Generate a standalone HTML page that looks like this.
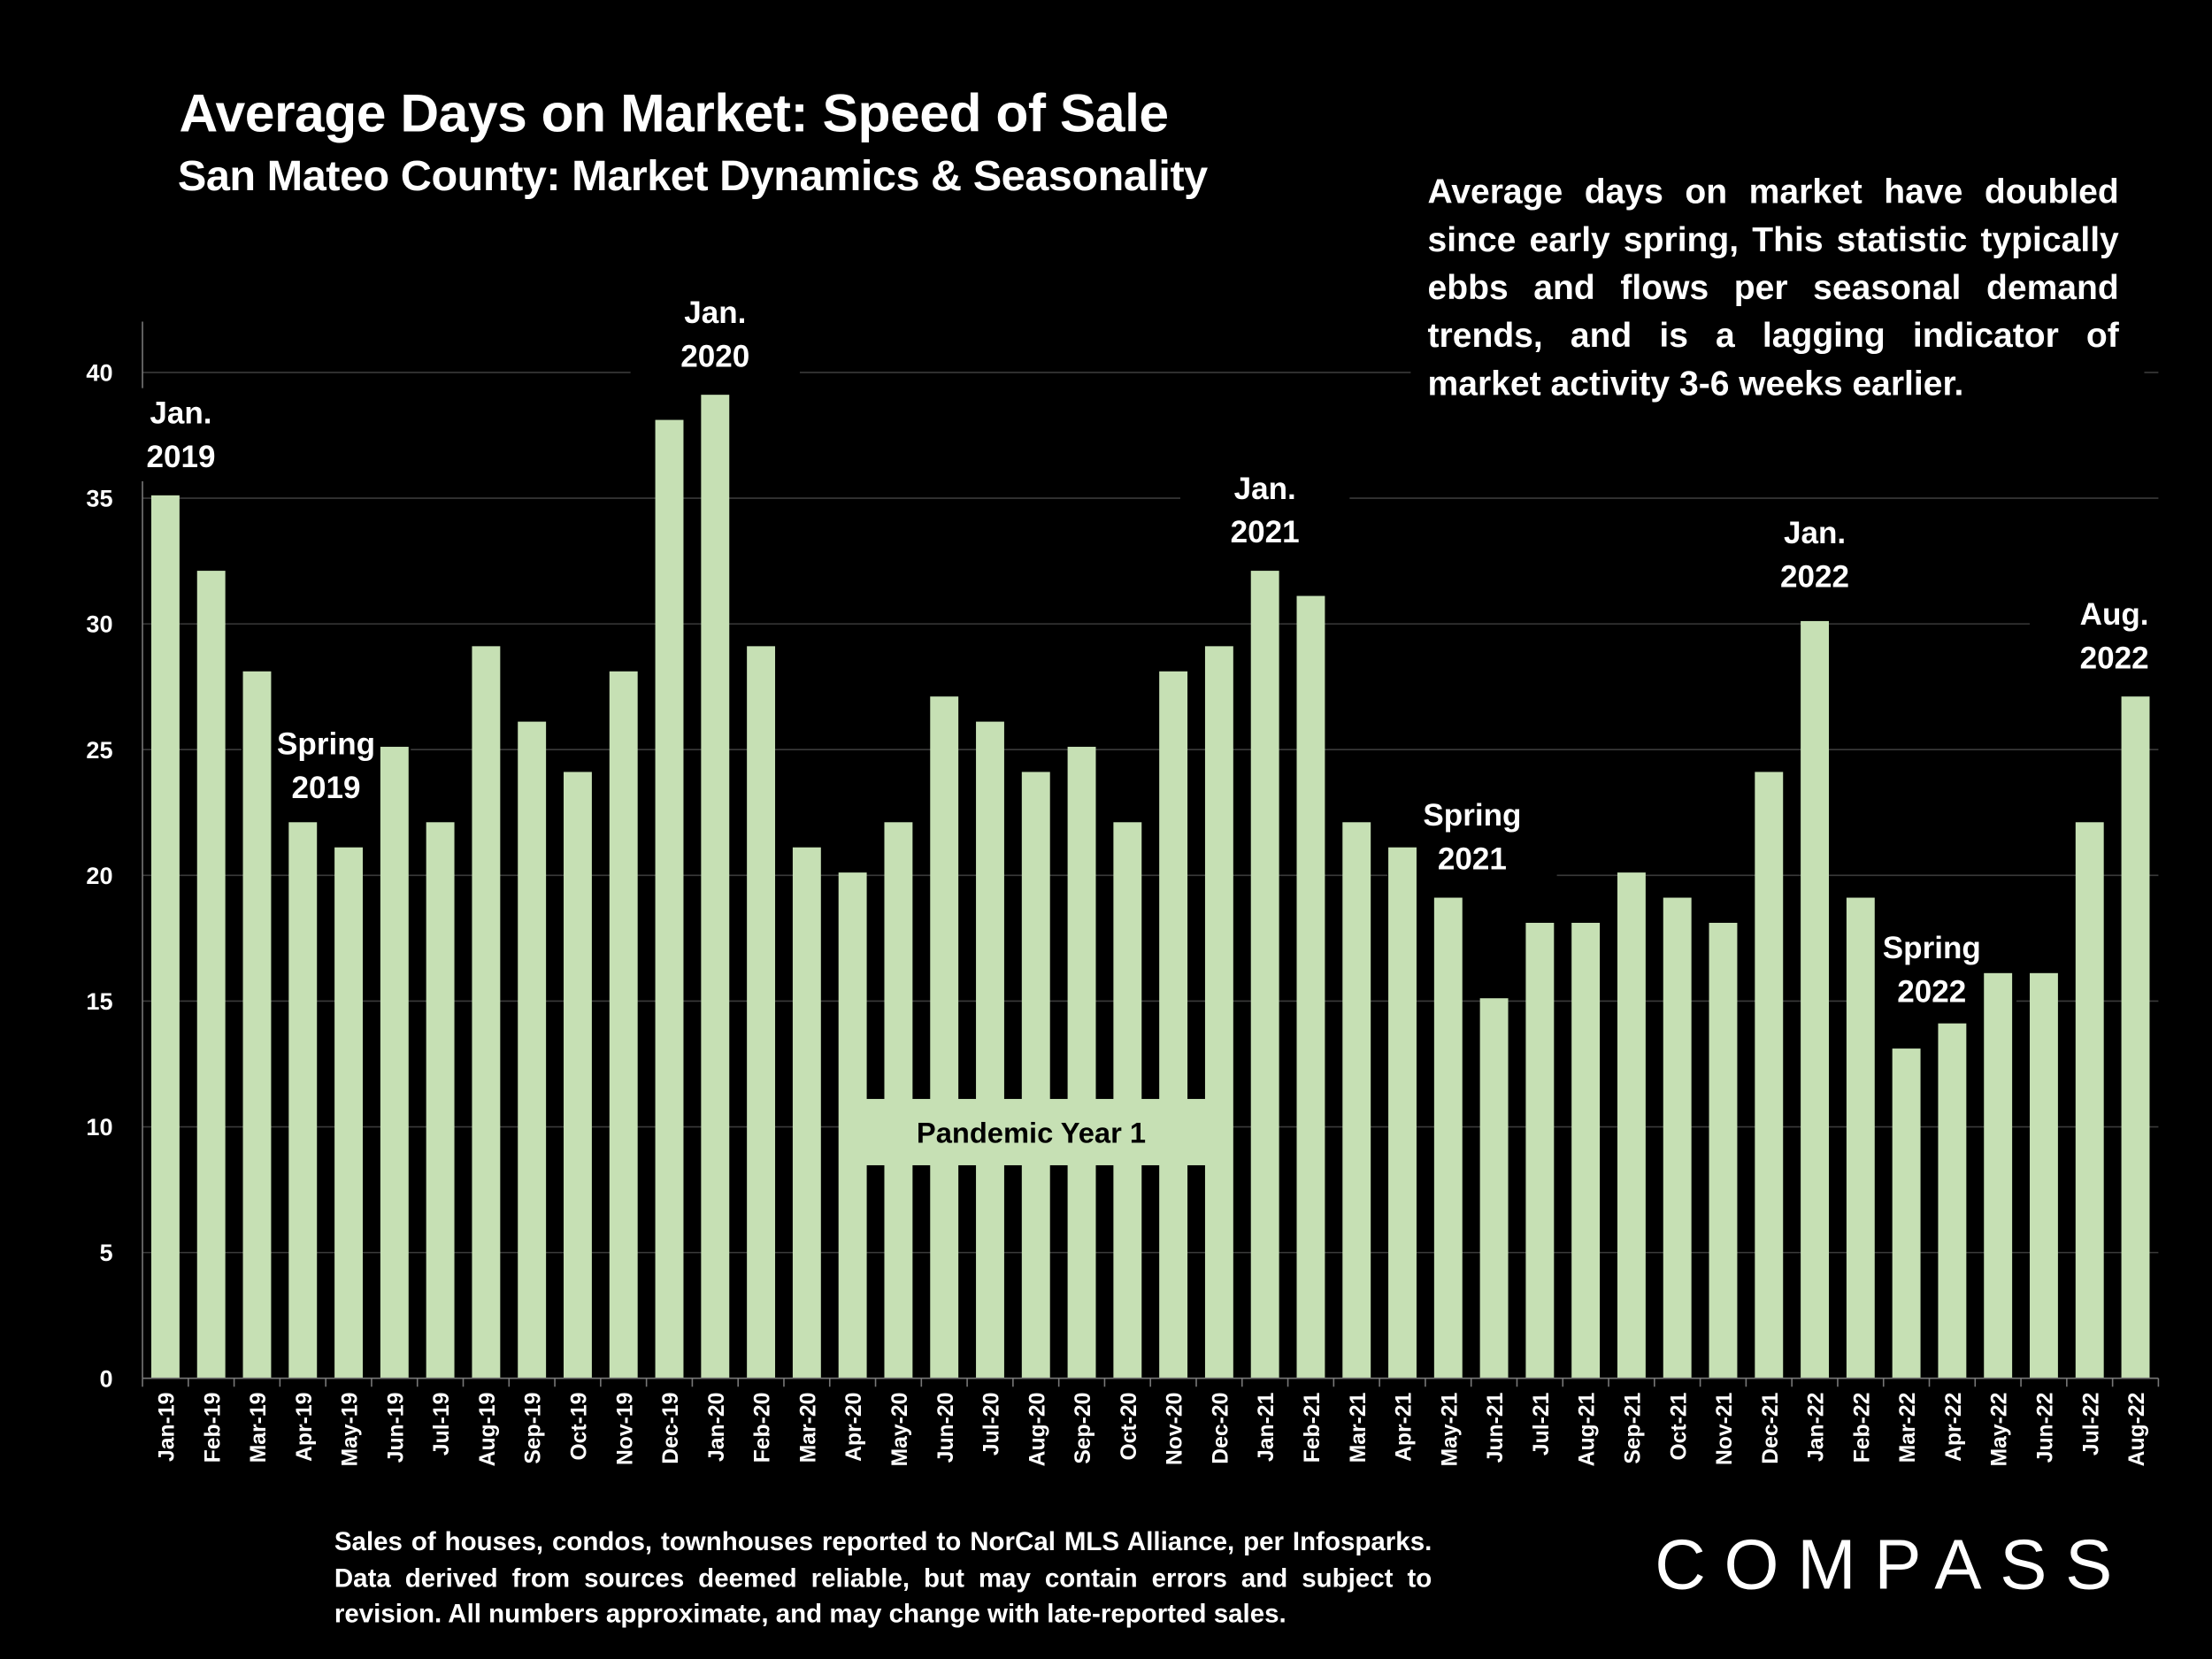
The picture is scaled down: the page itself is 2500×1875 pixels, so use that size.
<!DOCTYPE html>
<html><head><meta charset="utf-8">
<style>
html,body{margin:0;padding:0;background:#000;width:2500px;height:1875px;overflow:hidden}
#stage{position:absolute;left:0;top:0;width:1568px;height:1176px;transform-origin:0 0;transform:scale(1.594388);font-family:"Liberation Sans",sans-serif;color:#fff}
.abs{position:absolute}
.title{left:127px;top:60px;font-size:38px;font-weight:bold;letter-spacing:-0.3px}
.sub{left:126px;top:108px;font-size:30.5px;font-weight:bold;letter-spacing:-0.3px}
.note{left:1012px;top:120px;width:490px;font-size:24.5px;font-weight:bold;line-height:34px;text-align:justify;text-align-last:left}
.foot{left:237px;top:1080px;width:778px;font-size:18.5px;font-weight:bold;line-height:25.5px;text-align:justify;text-align-last:left}
.logo{left:1173px;top:1080px;font-size:50px;letter-spacing:13px;font-weight:normal}
svg{position:absolute;left:0;top:0}
</style></head><body>
<div id="stage">
<div class="abs title">Average Days on Market: Speed of Sale</div>
<div class="abs sub">San Mateo County: Market Dynamics &amp; Seasonality</div>
<svg id="chart" width="1568" height="1176" viewBox="0 0 1568 1176"></svg>
<div class="abs note">Average days on market have doubled since early spring, This statistic typically ebbs and flows per seasonal demand trends, and is a lagging indicator of market activity 3-6 weeks earlier.</div>
<div class="abs foot">Sales of houses, condos, townhouses reported to NorCal MLS Alliance, per Infosparks. Data derived from sources deemed reliable, but may contain errors and subject to revision. All numbers approximate, and may change with late-reported sales.</div>
<div class="abs logo">COMPASS</div>
</div>
<script>
const categories=["Jan-19","Feb-19","Mar-19","Apr-19","May-19","Jun-19","Jul-19","Aug-19","Sep-19","Oct-19","Nov-19","Dec-19","Jan-20","Feb-20","Mar-20","Apr-20","May-20","Jun-20","Jul-20","Aug-20","Sep-20","Oct-20","Nov-20","Dec-20","Jan-21","Feb-21","Mar-21","Apr-21","May-21","Jun-21","Jul-21","Aug-21","Sep-21","Oct-21","Nov-21","Dec-21","Jan-22","Feb-22","Mar-22","Apr-22","May-22","Jun-22","Jul-22","Aug-22"];
const values=[35,32,28,22,21,25,22,29,26,24,28,38,39,29,21,20,22,27,26,24,25,22,28,29,32,31,22,21,19,15,18,18,20,19,18,24,30,19,13,14,16,16,22,27];
const yTicks=[0,5,10,15,20,25,30,35,40];
const annoIdx=[0,4,12,24,28,36,38,43];
const annoL1=["Jan.","Spring","Jan.","Jan.","Spring","Jan.","Spring","Aug."];
const annoL2=["2019","2019","2020","2021","2021","2022","2022","2022"];
// layout offsets for annotation labels (not data)
const annoDx=[11,-16,0,0,17,0,18,-15];
const annoDy=[0,-15,0,0,0,-4,-13,0];

const NS="http://www.w3.org/2000/svg";
const svg=document.getElementById('chart');
const X0=101,X1=1530,Y0=977,YTOP=264;
const step=(X1-X0)/categories.length;
const xC=i=>X0+step*(i+0.5);
const yS=v=>Y0-(v/40)*(Y0-YTOP);
function mk(t,a){const e=document.createElementNS(NS,t);for(const k in a)e.setAttribute(k,a[k]);svg.appendChild(e);return e;}
yTicks.forEach(v=>{
  if(v>0){const g=mk('line',{x1:X0,x2:X1,y1:yS(v),y2:yS(v),stroke:'#3a3a3a','stroke-width':1});
  
  }
  const t=mk('text',{x:80,y:yS(v)+6,'text-anchor':'end','font-size':17,'font-weight':'bold',fill:'#fff','font-family':'Liberation Sans, sans-serif'});
  t.textContent=v;
  
  
});
const ya=mk('line',{x1:X0,x2:X0,y1:228,y2:Y0,stroke:'#777','stroke-width':1});


annoIdx.forEach((i,k)=>{
  const top=yS(values[i])-72+annoDy[k];
  const r=mk('rect',{x:xC(i)+annoDx[k]-60,y:top-6,width:120,height:66,fill:'#000'});
  
  
});
values.forEach((v,i)=>{
  const b=mk('rect',{x:xC(i)-10,y:yS(v)-2,width:20,height:Y0-yS(v)+2,fill:'#c6e0b4'});
  
  
});
const xa=mk('line',{x1:X0,x2:X1,y1:Y0,y2:Y0,stroke:'#777','stroke-width':1});


for(let i=0;i<=categories.length;i++){mk('line',{x1:X0+step*i,x2:X0+step*i,y1:Y0,y2:Y0+6,stroke:'#777','stroke-width':1});}
categories.forEach((c,i)=>{
  const t=mk('text',{x:0,y:0,transform:`translate(${xC(i)+6},${Y0+10}) rotate(-90)`,'text-anchor':'end','font-size':15.5,'font-weight':'bold',fill:'#fff','font-family':'Liberation Sans, sans-serif'});
  t.textContent=c;
  
  
});
annoIdx.forEach((i,k)=>{
  const top=yS(values[i])-72+annoDy[k];
  [annoL1[k],annoL2[k]].forEach((s,j)=>{
    const t=mk('text',{x:xC(i)+annoDx[k],y:top+19+j*31,'text-anchor':'middle','font-size':22,'font-weight':'bold',fill:'#fff','font-family':'Liberation Sans, sans-serif'});
    t.textContent=s;
    
    
  });
});
const pb=mk('rect',{x:595,y:779,width:260,height:47,fill:'#c6e0b4'});


const pt=mk('text',{x:731,y:810,'text-anchor':'middle','font-size':20.5,'font-weight':'bold',fill:'#000','font-family':'Liberation Sans, sans-serif'});
pt.textContent='Pandemic Year 1';


const nb=mk('rect',{x:1000,y:112,width:520,height:180,fill:'#000'});


</script>
</body></html>
